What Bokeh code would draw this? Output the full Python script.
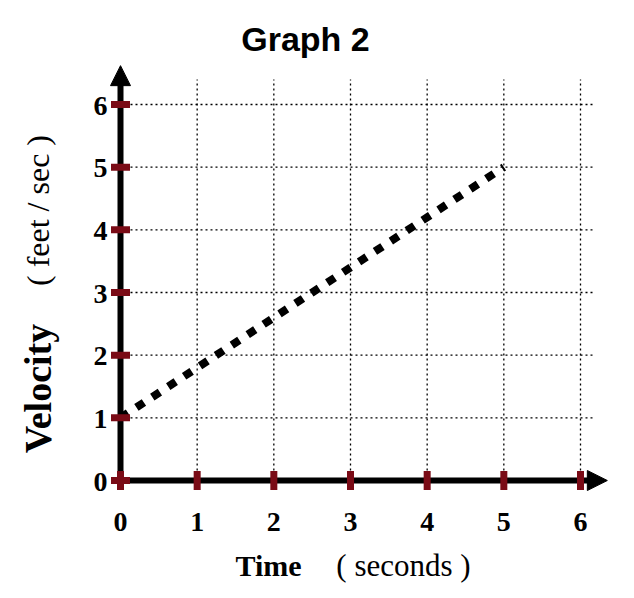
import math
from bokeh.plotting import figure
from bokeh.models import Range1d, Label, Arrow, NormalHead
from bokeh.core.properties import value
from bokeh.embed import file_html
from bokeh.resources import INLINE

# ---- data ----
title = "Graph 2"
x_ticks = [0, 1, 2, 3, 4, 5, 6]
y_ticks = [0, 1, 2, 3, 4, 5, 6]
x_tick_labels = ["0", "1", "2", "3", "4", "5", "6"]
y_tick_labels = ["0", "1", "2", "3", "4", "5", "6"]
time_s = [0, 5]
velocity_fps = [1, 5]
x_title_bold, x_title_unit = "Time", "( seconds )"
y_title_bold, y_title_unit = "Velocity", "( feet / sec )"

W, H = 634, 598
px_x = 460 / 6.0   # pixels per second
px_y = 376 / 6.0   # pixels per ft/s
x0_px, y0_px = 120, 480

p = figure(width=W, height=H, output_backend="svg", toolbar_location=None,
           x_range=Range1d(-x0_px / px_x, (W - x0_px) / px_x),
           y_range=Range1d(-(H - y0_px) / px_y, y0_px / px_y),
           x_axis_location=None, y_axis_location=None, min_border=0)
p.grid.visible = False
p.outline_line_color = None
p.background_fill_color = "white"
p.border_fill_color = "white"

grid_x_end = 6.17
grid_y_end = 6.4
# horizontal grid lines
hy = y_ticks[1:]
p.segment(x0=[0] * len(hy), y0=hy, x1=[grid_x_end] * len(hy), y1=hy,
          line_color="black", line_width=1.3, line_dash="2 3")
# vertical grid lines
vx = x_ticks[1:]
p.segment(x0=vx, y0=[0] * len(vx), x1=vx, y1=[grid_y_end] * len(vx),
          line_color="black", line_width=1.3, line_dash="2 3")

# data line
p.line(time_s, velocity_fps, line_color="black", line_width=8, line_dash="9 10",
       line_cap="butt")

# axes lines
x_tip = 6.35
y_tip = 6.62
p.segment(x0=[0, 0], y0=[0, 0], x1=[x_tip - 0.12, 0], y1=[0, y_tip - 0.15],
          line_color="black", line_width=6)
p.add_layout(Arrow(end=NormalHead(size=20, fill_color="black", line_color="black", line_width=1),
                   x_start=x_tip - 0.2, y_start=0, x_end=x_tip, y_end=0, line_color=None))
p.add_layout(Arrow(end=NormalHead(size=20, fill_color="black", line_color="black", line_width=1),
                   x_start=0, y_start=y_tip - 0.2, x_end=0, y_end=y_tip, line_color=None))

# tick marks (maroon)
tick_col = "#7a0b16"
p.rect(x=x_ticks, y=[0] * len(x_ticks), width=7, height=19,
       width_units="screen", height_units="screen", fill_color=tick_col, line_color=None)
p.rect(x=[0] * len(y_ticks), y=y_ticks, width=19, height=7,
       width_units="screen", height_units="screen", fill_color=tick_col, line_color=None)

# tick labels
serif = value("Liberation Serif")
p.text(x=x_ticks, y=[0] * len(x_ticks), text=x_tick_labels, y_offset=41,
       text_align="center", text_baseline="middle", text_font=serif,
       text_font_size="28px", text_font_style="bold", text_color="black")
p.text(x=[0] * len(y_ticks), y=y_ticks, text=y_tick_labels, x_offset=-13, y_offset=1,
       text_align="right", text_baseline="middle", text_font=serif,
       text_font_size="28px", text_font_style="bold", text_color="black")

# title
p.add_layout(Label(x=305, y=H - 38, x_units="screen", y_units="screen", text=title,
                   text_align="center", text_baseline="middle",
                   text_font="Liberation Sans", text_font_style="bold",
                   text_font_size="34px", text_color="black"))

# x axis title
p.add_layout(Label(x=268, y=H - 565, x_units="screen", y_units="screen", text=x_title_bold,
                   text_align="center", text_baseline="middle",
                   text_font="Liberation Serif", text_font_style="bold",
                   text_font_size="30px", text_color="black"))
p.add_layout(Label(x=403, y=H - 565, x_units="screen", y_units="screen", text=x_title_unit,
                   text_align="center", text_baseline="middle",
                   text_font="Liberation Serif", text_font_style="normal",
                   text_font_size="31px", text_color="black"))

# y axis title (rotated)
p.add_layout(Label(x=37, y=H - 388, x_units="screen", y_units="screen", text=y_title_bold,
                   angle=math.pi / 2, text_align="center", text_baseline="middle",
                   text_font="Liberation Serif", text_font_style="bold",
                   text_font_size="38px", text_color="black"))
p.add_layout(Label(x=37, y=H - 210, x_units="screen", y_units="screen", text=y_title_unit,
                   angle=math.pi / 2, text_align="center", text_baseline="middle",
                   text_font="Liberation Serif", text_font_style="normal",
                   text_font_size="32px", text_color="black"))

open("out.html", "w").write(file_html(p, INLINE))
